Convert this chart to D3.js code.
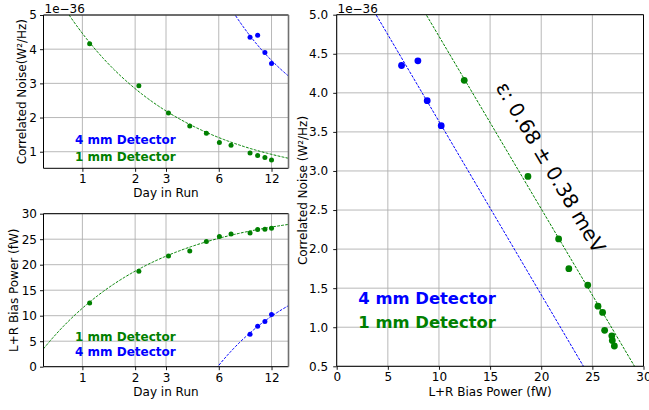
<!DOCTYPE html>
<html>
<head>
<meta charset="utf-8">
<script src="https://cdn.jsdelivr.net/npm/d3@7"></script>
<style>
  body { margin: 0; background: #fff; }
  svg text { font-family: "DejaVu Sans", sans-serif; }
</style>
</head>
<body>
<div id="chart"></div>
<script>
// données
const days1mm = [1.1, 2.1, 3.1, 4.1, 5.1, 6.05, 7.05, 9.05, 10, 11, 12];
const noise1mm = [4.16, 2.93, 2.13, 1.75, 1.54, 1.27, 1.19, 0.96, 0.89, 0.83, 0.76];
const power1mm = [12.47, 18.7, 21.7, 22.7, 24.55, 25.55, 26.0, 26.2, 26.9, 26.95, 27.15];

const days4mm = [9.05, 10, 11, 12];
const noise4mm = [4.35, 4.41, 3.90, 3.58];
const power4mm = [6.34, 7.94, 8.85, 10.22];

// paramètres des ajustements (courbes pointillées)
const fit1mm = { b: 0.665, pMax: 31.15, pB: 19.68, nA: 4.377, nC: 0.085 };
const fit4mm = { b: 0.85, pMax: 21.9, pB: 99.25, nA: 21.9, nC: 1.023 };
const line1mm = { slope: -0.2209, intercept: 6.933 };
const line4mm = { slope: -0.2219, intercept: 5.854 };

const dayTicks = [1, 2, 3, 6, 12];
const noiseTicksL = [1, 2, 3, 4, 5];
const powerTicks = [0, 5, 10, 15, 20, 25, 30];
const noiseTicksR = [0.5, 1.0, 1.5, 2.0, 2.5, 3.0, 3.5, 4.0, 4.5, 5.0];
const biasTicks = [0, 5, 10, 15, 20, 25, 30];

const BLUE = "#0000ff", GREEN = "#008000", GRID = "#b0b0b0";

const W = 649, H = 410;
const svg = d3.select("#chart").append("svg")
  .attr("width", W).attr("height", H);

const tl = { x0: 43.5, x1: 288.5, y0: 15, y1: 168.3 };
const bl = { x0: 43.5, x1: 288.5, y0: 213.7, y1: 366.7 };
const rp = { x0: 336.7, x1: 643.5, y0: 14.7, y1: 366.3 };

function panel(box, x, y, xt, yt, xfmt, yfmt, id, ypad) {
  const g = svg.append("g");
  g.append("clipPath").attr("id", id)
    .append("rect").attr("x", box.x0).attr("y", box.y0)
    .attr("width", box.x1 - box.x0).attr("height", box.y1 - box.y0);
  // grille
  g.append("g").selectAll("line").data(xt).join("line")
    .attr("x1", d => x(d)).attr("x2", d => x(d))
    .attr("y1", box.y0).attr("y2", box.y1)
    .attr("stroke", GRID).attr("stroke-width", 0.9);
  g.append("g").selectAll("line").data(yt).join("line")
    .attr("x1", box.x0).attr("x2", box.x1)
    .attr("y1", d => y(d)).attr("y2", d => y(d))
    .attr("stroke", GRID).attr("stroke-width", 0.9);
  const ax = g.append("g").attr("transform", `translate(0,${box.y1})`)
    .call(d3.axisBottom(x).tickValues(xt).tickFormat(xfmt).tickSize(3.5).tickPadding(3));
  const ay = g.append("g").attr("transform", `translate(${box.x0},0)`)
    .call(d3.axisLeft(y).tickValues(yt).tickFormat(yfmt).tickSize(3.5).tickPadding(ypad));
  [ax, ay].forEach(a => {
    a.select(".domain").remove();
    a.selectAll("text").attr("font-size", 12).attr("fill", "#000")
      .attr("font-family", "DejaVu Sans");
    a.selectAll("line").attr("stroke", "#000").attr("stroke-width", 0.9);
  });
  const plot = g.append("g").attr("clip-path", `url(#${id})`);
  return { g, plot };
}

function spines(g, box, rightColor) {
  const s = g.append("g").attr("fill", "none");
  s.append("line").attr("x1", box.x0).attr("x2", box.x1).attr("y1", box.y0).attr("y2", box.y0).attr("stroke", "#000");
  s.append("line").attr("x1", box.x0).attr("x2", box.x1).attr("y1", box.y1).attr("y2", box.y1).attr("stroke", "#000");
  s.append("line").attr("x1", box.x0).attr("x2", box.x0).attr("y1", box.y0).attr("y2", box.y1).attr("stroke", "#000");
  s.append("line").attr("x1", box.x1).attr("x2", box.x1).attr("y1", box.y0).attr("y2", box.y1)
    .attr("stroke", rightColor).attr("stroke-width", rightColor === "#000" ? 1 : 1.6);
}

const logDays = d3.range(0, 201).map(i => 0.6 * Math.pow(15 / 0.6, i / 200));

// ---------- haut gauche : bruit vs jour ----------
const xT = d3.scaleLog().domain([0.6, 15]).range([tl.x0, tl.x1]);
const yT = d3.scaleLinear().domain([0.515, 5]).range([tl.y1, tl.y0]);
const pT = panel(tl, xT, yT, dayTicks, noiseTicksL, d3.format("d"), d3.format("d"), "clipTL", 3);

const noiseFit = f => t => f.nC + f.nA * Math.pow(t, -f.b);
const powerFit = f => t => f.pMax - f.pB * Math.pow(t, -f.b);

const lineT = d3.line().x(d => xT(d[0])).y(d => yT(d[1]));
pT.plot.append("path").datum(logDays.map(t => [t, noiseFit(fit1mm)(t)]))
  .attr("d", lineT).attr("fill", "none").attr("stroke", GREEN).attr("stroke-width", 1).attr("stroke-dasharray", "2.8,1.3");
pT.plot.append("path").datum(logDays.map(t => [t, noiseFit(fit4mm)(t)]))
  .attr("d", lineT).attr("fill", "none").attr("stroke", BLUE).attr("stroke-width", 1).attr("stroke-dasharray", "2.8,1.3");
pT.plot.append("g").selectAll("circle").data(days1mm).join("circle")
  .attr("cx", d => xT(d)).attr("cy", (d, i) => yT(noise1mm[i])).attr("r", 2.5).attr("fill", GREEN);
pT.plot.append("g").selectAll("circle").data(days4mm).join("circle")
  .attr("cx", d => xT(d)).attr("cy", (d, i) => yT(noise4mm[i])).attr("r", 2.5).attr("fill", BLUE);
spines(pT.g, tl, "#707070");

pT.g.append("text").attr("x", 75).attr("y", 144.3).attr("font-size", 12).attr("font-weight", "bold")
  .attr("fill", BLUE).text("4 mm Detector");
pT.g.append("text").attr("x", 75).attr("y", 161).attr("font-size", 12).attr("font-weight", "bold")
  .attr("fill", GREEN).text("1 mm Detector");
pT.g.append("text").attr("x", 44.5).attr("y", 12.5).attr("font-size", 12).text("1e\u221236");
pT.g.append("text").attr("x", (tl.x0 + tl.x1) / 2).attr("y", 197).attr("text-anchor", "middle")
  .attr("font-size", 12).text("Day in Run");
pT.g.append("text").attr("transform", `translate(25.5,${(tl.y0 + tl.y1) / 2}) rotate(-90)`)
  .attr("text-anchor", "middle").attr("font-size", 12).text("Correlated Noise(W²/Hz)");

// ---------- bas gauche : puissance vs jour ----------
const xB = d3.scaleLog().domain([0.6, 15]).range([bl.x0, bl.x1]);
const yB = d3.scaleLinear().domain([0, 30]).range([bl.y1, bl.y0]);
const pB = panel(bl, xB, yB, dayTicks, powerTicks, d3.format("d"), d3.format("d"), "clipBL", 3);
const lineB = d3.line().x(d => xB(d[0])).y(d => yB(d[1]));
pB.plot.append("path").datum(logDays.map(t => [t, powerFit(fit1mm)(t)]))
  .attr("d", lineB).attr("fill", "none").attr("stroke", GREEN).attr("stroke-width", 1).attr("stroke-dasharray", "2.8,1.3");
pB.plot.append("path").datum(logDays.filter(t => powerFit(fit4mm)(t) > -1).map(t => [t, powerFit(fit4mm)(t)]))
  .attr("d", lineB).attr("fill", "none").attr("stroke", BLUE).attr("stroke-width", 1).attr("stroke-dasharray", "2.8,1.3");
pB.plot.append("g").selectAll("circle").data(days1mm).join("circle")
  .attr("cx", d => xB(d)).attr("cy", (d, i) => yB(power1mm[i])).attr("r", 2.5).attr("fill", GREEN);
pB.plot.append("g").selectAll("circle").data(days4mm).join("circle")
  .attr("cx", d => xB(d)).attr("cy", (d, i) => yB(power4mm[i])).attr("r", 2.5).attr("fill", BLUE);
spines(pB.g, bl, "#707070");

pB.g.append("text").attr("x", 75).attr("y", 341).attr("font-size", 12).attr("font-weight", "bold")
  .attr("fill", GREEN).text("1 mm Detector");
pB.g.append("text").attr("x", 75).attr("y", 356).attr("font-size", 12).attr("font-weight", "bold")
  .attr("fill", BLUE).text("4 mm Detector");
pB.g.append("text").attr("x", (bl.x0 + bl.x1) / 2).attr("y", 396).attr("text-anchor", "middle")
  .attr("font-size", 12).text("Day in Run");
pB.g.append("text").attr("transform", `translate(18,${(bl.y0 + bl.y1) / 2}) rotate(-90)`)
  .attr("text-anchor", "middle").attr("font-size", 12).text("L+R Bias Power (fW)");

// ---------- droite : bruit vs puissance ----------
const xR = d3.scaleLinear().domain([0, 30]).range([rp.x0, rp.x1]);
const yR = d3.scaleLinear().domain([0.5, 5]).range([rp.y1, rp.y0]);
const pR = panel(rp, xR, yR, biasTicks, noiseTicksR, d3.format("d"), d3.format(".1f"), "clipR", 5);
const lineR = d3.line().x(d => xR(d[0])).y(d => yR(d[1]));
[[line1mm, GREEN], [line4mm, BLUE]].forEach(([l, c]) => {
  pR.plot.append("path").datum([0, 30].map(p => [p, l.intercept + l.slope * p]))
    .attr("d", lineR).attr("fill", "none").attr("stroke", c).attr("stroke-width", 1).attr("stroke-dasharray", "2.8,1.3");
});
pR.plot.append("g").selectAll("circle").data(power1mm).join("circle")
  .attr("cx", d => xR(d)).attr("cy", (d, i) => yR(noise1mm[i])).attr("r", 3.4).attr("fill", GREEN);
pR.plot.append("g").selectAll("circle").data(power4mm).join("circle")
  .attr("cx", d => xR(d)).attr("cy", (d, i) => yR(noise4mm[i])).attr("r", 3.4).attr("fill", BLUE);
spines(pR.g, rp, "#000");

// angle du texte aligné sur la droite 1 mm
const ang = Math.atan2(yR(line1mm.intercept + line1mm.slope * 29) - yR(line1mm.intercept + line1mm.slope * 9),
  xR(29) - xR(9)) * 180 / Math.PI;
pR.g.append("text").attr("transform", `translate(${xR(15.5)},${yR(4.07)}) rotate(${ang})`)
  .attr("font-size", 20).text("ε: 0.68 ± 0.38 meV");

pR.g.append("text").attr("x", 358.3).attr("y", 304.3).attr("font-size", 16.4).attr("font-weight", "bold")
  .attr("fill", BLUE).text("4 mm Detector");
pR.g.append("text").attr("x", 358.3).attr("y", 327.7).attr("font-size", 16.4).attr("font-weight", "bold")
  .attr("fill", GREEN).text("1 mm Detector");
pR.g.append("text").attr("x", 337.5).attr("y", 12.8).attr("font-size", 12).text("1e\u221236");
pR.g.append("text").attr("x", (rp.x0 + rp.x1) / 2).attr("y", 396).attr("text-anchor", "middle")
  .attr("font-size", 12).text("L+R Bias Power (fW)");
pR.g.append("text").attr("transform", `translate(306.5,${(rp.y0 + rp.y1) / 2}) rotate(-90)`)
  .attr("text-anchor", "middle").attr("font-size", 12).text("Correlated Noise (W²/Hz)");
</script>
</body>
</html>
